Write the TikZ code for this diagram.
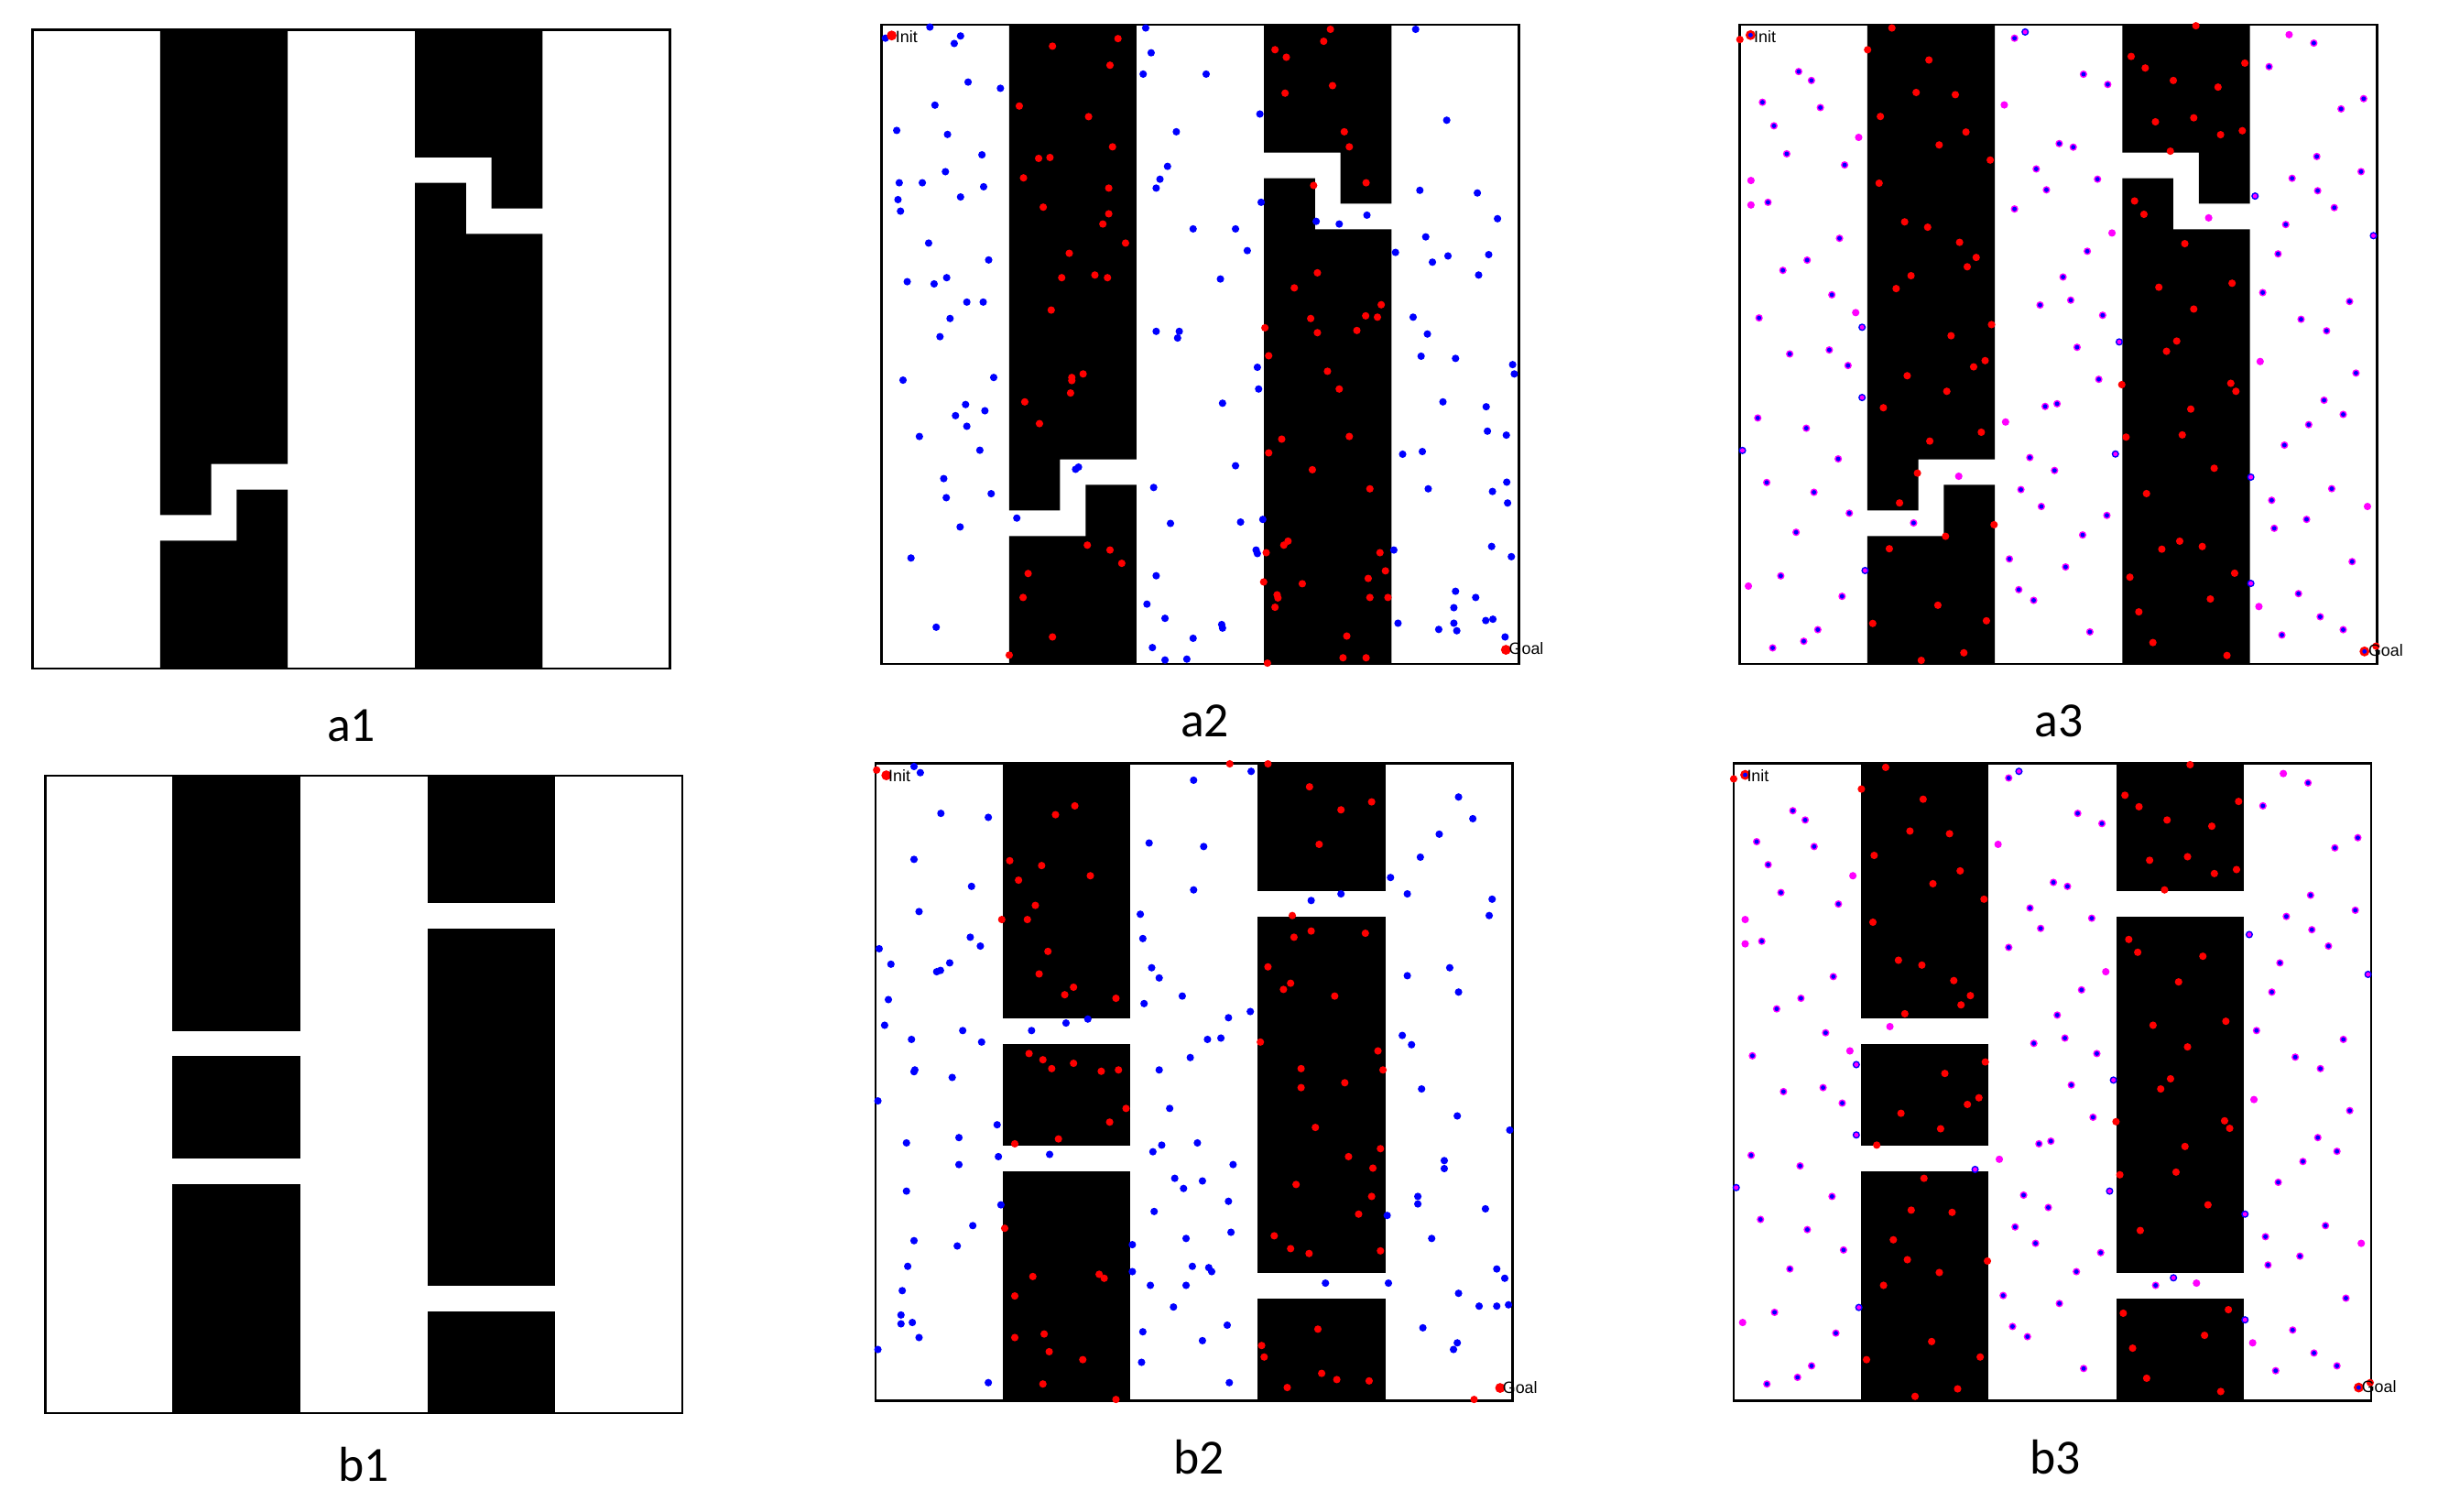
\documentclass[tikz,border=0pt]{standalone}
\usepackage{fontspec}
\setmainfont{Carlito}
\newfontfamily\arialf{Liberation Sans}
\definecolor{dblue}{RGB}{0,0,255}
\definecolor{dred}{RGB}{255,0,0}
\definecolor{dmag}{RGB}{255,0,255}
\tikzset{
  frm/.style={draw=black, line width=0.03cm},
  obst/.style={fill=black},
  lab/.style={font=\fontsize{18}{18}\selectfont, anchor=base, inner sep=0pt},
  smalltxt/.style={font=\arialf\fontsize{6}{6}\selectfont, anchor=base west, inner sep=0pt},
}
\newcommand\obsA{%
  \fill[obst] (2,0)--(4,0)--(4,6.8)--(2.8,6.8)--(2.8,7.6)--(2,7.6)--cycle;
  \fill[obst] (2,8)--(3.2,8)--(3.2,7.2)--(4,7.2)--(4,10)--(2,10)--cycle;
  \fill[obst] (6,0)--(8,0)--(8,2.8)--(7.2,2.8)--(7.2,2)--(6,2)--cycle;
  \fill[obst] (6,2.4)--(6.8,2.4)--(6.8,3.2)--(8,3.2)--(8,10)--(6,10)--cycle;
  \draw[frm] (0,0) rectangle (10,10);}
\newcommand\obsB{%
  \fill[obst] (2,0) rectangle (4,4);
  \fill[obst] (2,4.4) rectangle (4,6);
  \fill[obst] (2,6.4) rectangle (4,10);
  \fill[obst] (6,0) rectangle (8,2);
  \fill[obst] (6,2.4) rectangle (8,8);
  \fill[obst] (6,8.4) rectangle (8,10);
  \draw[frm] (0,0) rectangle (10,10);}
\newcommand\myrad{0.048cm}
\newcommand\myin{0.029cm}
\newcommand\mybig{0.064cm}
\begin{document}
\begin{tikzpicture}[x=0.02cm,y=-0.02cm]
\fill[white] (0,0) rectangle (1568,972);
\useasboundingbox (0,0) rectangle (1568,972);

% ---------- a1 ----------
\begin{scope}[shift={(21,19)}, x=0.82cm, y=-0.822cm]
  \obsA
\end{scope}
\node[lab] (la1) at (226,477) {a1};

% ---------- b1 ----------
\begin{scope}[shift={(29,499)}, x=0.82cm, y=-0.82cm]
  \obsB
\end{scope}
\node[lab] (lb1) at (234,953) {b1};

% ---------- a2 ----------
\begin{scope}[shift={(567,16)}, x=0.82cm, y=-0.822cm]
  \obsA
\end{scope}
\begin{scope}[shift={(567,16)}]
\begin{scope}[x=0.0053947cm, y=-0.0057123cm, shift={(-28,-58)}]
\foreach \x/\y in {37/88, 143/63, 216/83, 201/100, 234/187, 311/201, 155/239, 64/296, 185/305, 267/351, 180/389, 70/414, 125/414, 271/423, 67/452, 216/446, 73/478, 140/550, 283/588, 89/637, 153/642, 183/628, 231/683, 270/683, 191/720, 167/761, 79/859, 295/853, 228/914, 274/928, 204/939, 231/963, 118/986, 262/1017, 176/1081, 182/1124, 289/1115, 215/1190, 350/1170, 98/1260, 158/1416, 490/1060, 497/1055,
657/65, 670/121, 651/169, 801/169, 929/259, 730/299, 709/377, 691/406, 682/426, 932/458, 770/518, 871/518, 899/567, 835/631, 682/749, 737/749, 733/764, 923/830, 926/879, 840/911, 871/1052, 676/1101, 716/1182, 883/1179, 936/1173, 920/1242, 923/1250, 682/1300, 660/1364, 703/1396, 838/1410, 840/1418, 770/1441, 673/1462, 703/1490, 755/1488,
1063/501, 1118/507, 1184/487,
1300/68, 1374/273, 1310/431, 1447/437, 1495/495, 1324/536, 1252/571, 1340/593, 1377/579, 1474/576, 1450/622, 1294/717, 1328/755, 1313/805, 1395/810, 1531/824, 1535/845, 1365/908, 1468/919, 1471/974, 1516/983, 1269/1026, 1316/1020, 1517/1089, 1483/1110, 1519/1136, 1330/1104, 1248/1242, 1481/1234, 1528/1257, 1395/1335, 1391/1372, 1443/1349, 1258/1407, 1355/1421, 1391/1407, 1398/1424, 1467/1401, 1484/1398, 1513/1438}
  \fill[dblue] (\x,\y) circle[radius=\myrad];
\foreach \x/\y in {435/106, 591/89, 572/149, 356/241, 521/265, 578/333, 402/359, 429/357, 366/403, 569/426, 413/469, 569/484, 555/507, 609/550, 475/573, 457/628, 536/622, 566/628, 432/701, 481/853, 481/860, 508/845, 478/888, 369/908, 404/957, 518/1231, 572/1242, 600/1272, 377/1295, 365/1349, 435/1438, 332/1479,
1097/68, 1081/95, 965/114, 992/131, 1102/195, 989/212, 1130/299, 1142/333, 1182/414, 1057/420, 1066/617, 1011/651, 1218/689, 1181/714, 1209/717, 1050/720, 1066/752, 1160/747, 941/741, 950/804, 1090/839, 1118/879, 981/992, 950/1023, 1142/986, 1054/1061, 1191/1104, 1215/1248, 1228/1289, 1187/1306, 944/1248, 986/1231, 996/1222, 938/1314, 1030/1318, 970/1343, 972/1350, 965/1371, 1191/1349, 1234/1349, 1136/1436, 1127/1485, 1182/1485, 947/1497}
  \fill[dred] (\x,\y) circle[radius=\myrad];
\fill[dred] (52,82) circle[radius=\mybig];
\fill[dred] (1515,1467) circle[radius=\mybig];
\node[smalltxt] (ia2) at (60,98) {Init};
\node[smalltxt] (ga2) at (1521,1478) {Goal};
\end{scope}
\end{scope}
\node[lab] (la2) at (775,474) {a2};

% ---------- a3 ----------
\begin{scope}[shift={(1119,16)}, x=0.82cm, y=-0.822cm]
  \obsA
\end{scope}
\begin{scope}[shift={(1119,16)}]
\begin{scope}[x=0.0054776cm, y=-0.0057202cm, shift={(-43,-60)}]
\foreach \x/\y in {181/165, 211/185, 96/234, 232/246, 123/287, 153/350, 289/375, 109/459, 277/540, 201/589, 144/612, 259/667, 88/719, 160/800, 253/791, 297/826, 85/944, 199/967, 274/1036, 106/1089, 217/1111, 300/1158, 175/1201, 451/1180, 139/1299, 283/1345, 226/1420, 193/1446, 120/1461,
688/90, 850/171, 907/194, 793/327, 826/335, 739/384, 883/407, 763/431, 688/474, 859/569, 802/627, 748/690, 820/679, 895/713, 835/785, 886/857, 760/918, 788/912, 724/1033, 782/1062, 703/1105, 751/1143, 905/1163, 848/1207, 676/1261, 808/1279, 698/1330, 733/1354, 865/1425,
1391/101, 1286/154, 1508/226, 1455/249, 1398/356, 1502/390, 1340/405, 1400/433, 1439/471, 1325/509, 1307/575, 1271/662, 1475/682, 1361/722, 1421/748, 1490/843, 1415/904, 1460/936, 1379/959, 1322/1005, 1433/1103, 1292/1129, 1374/1172, 1298/1192, 1481/1267, 1355/1339, 1406/1391, 1460/1420, 1316/1432}
  {\fill[dmag] (\x,\y) circle[radius=\myrad]; \fill[dblue] (\x,\y) circle[radius=\myin];}
\foreach \x/\y in {322/313, 69/410, 69/465, 315/707, 63/1322, 557/1075, 664/240, 917/528, 667/953, 1144/494, 1333/82, 1265/817, 1517/1143, 1262/1368}
  \fill[dmag] (\x,\y) circle[radius=\myrad];
\foreach \x/\y in {330/740, 330/898, 49/1017, 337/1287, 713/76, 934/773, 925/1025, 1253/445, 1531/534, 1243/1077, 1243/1316}
  {\fill[dblue] (\x,\y) circle[radius=\myrad]; \fill[dmag] (\x,\y) circle[radius=\myin];}
\foreach \x/\y in {400/67, 343/116, 487/139, 457/212, 549/217, 373/266, 574/301, 511/330, 631/364, 370/416, 430/503, 484/515, 559/549, 598/583, 577/604, 445/624, 410/653, 634/734, 539/759, 592/829, 619/815, 436/849, 529/884, 380/921, 610/976, 489/996, 460/1068, 418/1135, 640/1184, 526/1210, 394/1238, 508/1365, 355/1406, 622/1400, 569/1472, 469/1489,
1114/62, 962/131, 995/157, 1229/146, 1061/185, 1166/200, 1019/278, 1109/269, 1172/307, 1223/298, 1054/344, 970/456, 992/486, 1088/552, 1027/650, 1199/641, 1109/699, 1069/771, 1045/794, 940/869, 1196/866, 1208/884, 1102/924, 1082/982, 950/987, 1157/1057, 998/1114, 1076/1221, 1034/1239, 1129/1233, 1205/1293, 959/1302, 1148/1351, 980/1380, 1013/1449, 1187/1478,
43/93, 1537/1457}
  \fill[dred] (\x,\y) circle[radius=\myrad];
\fill[dred] (68,83) circle[radius=\mybig]; \fill[dblue] (68,83) circle[radius=\myin];
\fill[dred] (1510,1469) circle[radius=\mybig]; \fill[dblue] (1510,1469) circle[radius=\myin];
\node[smalltxt] (ia3) at (75,100) {Init};
\node[smalltxt] (ga3) at (1518,1480) {Goal};
\end{scope}
\end{scope}
\node[lab] (la3) at (1324,474) {a3};

% ---------- b2 ----------
\begin{scope}[shift={(563,491)}, x=0.82cm, y=-0.82cm]
  \obsB
\end{scope}
\begin{scope}[shift={(563,491)}]
\begin{scope}[x=0.0053983cm, y=-0.0056984cm, shift={(-12,-47)}]
\foreach \x/\y in {104/54, 119/68, 168/160, 281/169, 104/264, 241/325, 116/382, 21/466, 238/440, 262/460, 49/501, 158/518, 167/515, 189/498, 43/581, 34/639, 98/671, 220/651, 265/677, 106/740, 104/744, 195/757, 18/810, 302/864, 86/905, 211/893, 305/936, 211/954, 86/1014, 311/1045, 244/1092, 104/1126, 207/1138, 89/1184, 76/1239, 73/1294, 73/1314, 100/1311, 116/1345, 18/1372, 281/1447,
384/651, 466/634, 518/625, 427/931,
770/85, 907/65, 664/227, 794/235, 770/333, 643/388, 649/443, 670/509, 688/532, 743/573, 652/590, 853/622, 905/608, 803/671, 835/668, 762/712, 688/740, 713/827, 779/905, 694/910, 673/925, 864/954, 725/985, 746/1008, 791/991, 853/1037, 676/1060, 859/1107, 752/1121, 624/1135, 624/1196, 767/1184, 806/1187, 813/1196, 667/1227, 752/1227, 722/1276, 850/1317, 649/1332, 791/1352, 646/1401, 855/1447,
1050/357, 1121/342, 1084/1222, 1234/1222,
1239/305, 1401/123, 1435/172, 1355/207, 1310/259, 1279/342, 1481/354, 1474/391, 1279/527, 1380/509, 1401/564, 1267/662, 1289/683, 1313/783, 1398/844, 1523/876, 1367/945, 1367/963, 1304/1026, 1304/1043, 1465/1054, 1231/1069, 1337/1121, 1492/1190, 1511/1211, 1401/1245, 1450/1274, 1492/1274, 1520/1271, 1316/1323, 1398/1357, 1389/1372}
  \fill[dblue] (\x,\y) circle[radius=\myrad];
\foreach \x/\y in {15/62, 856/48, 947/48,
487/143, 441/163, 332/267, 408/278, 353/311, 524/301, 393/368, 313/400, 374/400, 423/472, 402/523, 484/553, 463/570, 585/578,
378/703, 411/717, 432/737, 484/725, 550/743, 591/740, 609/827, 570/858, 448/896, 344/907,
320/1098, 387/1207, 545/1202, 557/1211, 344/1251, 344/1345, 414/1337, 426/1377, 506/1395, 411/1450, 585/1485,
1046/100, 1194/134, 1121/152, 1069/230,
1005/391, 1009/440, 1050/426, 1179/431, 947/507, 1001/544, 984/558, 1106/573, 929/677, 1209/697, 1221/740, 1026/737, 1026/780, 1130/769, 1060/870, 1215/918, 1139/936, 1197/962, 1014/999, 1194/1026, 1163/1066, 962/1115, 1001/1144, 1045/1155, 1215/1149,
1066/1326, 932/1363, 938/1389, 1075/1426, 1111/1440, 1188/1443, 993/1458, 1438/1485}
  \fill[dred] (\x,\y) circle[radius=\myrad];
\fill[dred] (38,74) circle[radius=\mybig];
\fill[dred] (1500,1459) circle[radius=\mybig];
\node[smalltxt] (ib2) at (42,89) {Init};
\node[smalltxt] (gb2) at (1505,1472) {Goal};
\end{scope}
\end{scope}
\node[lab] (lb2) at (771,948) {b2};

% ---------- b3 ----------
\begin{scope}[shift={(1115,491)}, x=0.82cm, y=-0.82cm]
  \obsB
\end{scope}
\begin{scope}[shift={(1115,491)}]
\begin{scope}[x=0.0054703cm, y=-0.0056944cm, shift={(-28,-47)}]
\foreach \x/\y in {167/154, 196/175, 82/224, 217/235, 109/276, 139/339, 274/365, 94/449, 262/529, 186/578, 129/602, 244/656, 72/708, 145/789, 238/780, 283/815, 69/933, 184/957, 259/1026, 91/1078, 201/1101, 286/1147, 160/1190, 124/1288, 268/1335, 211/1409, 178/1435, 106/1450,
674/80, 836/160, 893/183, 779/316, 812/325, 724/374, 869/397, 749/420, 674/463, 845/559, 788/616, 733/680, 806/668, 881/703, 821/774, 872/847, 745/907, 773/901, 709/1023, 767/1051, 689/1095, 737/1132, 890/1153, 833/1196, 661/1250, 793/1268, 683/1320, 718/1343, 850/1415,
1019/1227,
1377/91, 1271/143, 1494/215, 1440/238, 1383/345, 1488/379, 1326/393, 1386/423, 1425/460, 1311/498, 1292/564, 1256/651, 1460/671, 1347/711, 1406/737, 1475/832, 1400/893, 1445/924, 1365/947, 1307/994, 1418/1092, 1277/1117, 1358/1161, 1283/1181, 1466/1256, 1341/1328, 1391/1380, 1445/1409, 1301/1420}
  {\fill[dmag] (\x,\y) circle[radius=\myrad]; \fill[dblue] (\x,\y) circle[radius=\myin];}
\foreach \x/\y in {308/301, 55/400, 55/455, 301/697, 49/1311, 395/642, 649/230, 902/518, 652/942, 1115/1222, 1319/70, 1250/807, 1502/1132, 1247/1357}
  \fill[dmag] (\x,\y) circle[radius=\myrad];
\foreach \x/\y in {316/728, 316/887, 34/1006, 322/1277, 595/965, 698/65, 920/763, 911/1014, 1239/434, 1061/1210, 1518/524, 1229/1066, 1229/1305}
  {\fill[dblue] (\x,\y) circle[radius=\myrad]; \fill[dmag] (\x,\y) circle[radius=\myin];}
\foreach \x/\y in {385/56, 328/105, 473/128, 442/200, 535/206, 358/255, 560/290, 496/319, 616/354, 355/406, 415/492, 470/503, 545/538, 584/572, 562/593, 430/613,
619/722, 524/748, 604/803, 577/818, 421/838, 514/873, 364/910,
475/985, 445/1057, 541/1062, 403/1124, 436/1169, 624/1172, 511/1198, 380/1227, 493/1354, 340/1395, 607/1389, 554/1461, 454/1478,
1100/50, 947/119, 980/145, 1214/133, 1046/175, 1151/189, 1005/266, 1094/258, 1157/296, 1209/287, 1040/333,
956/445, 977/474, 1130/483, 1073/541, 1013/639, 1184/630, 1094/688, 1054/760, 1031/783, 926/857, 1181/855, 1193/872, 1088/913, 1067/971, 935/977, 1142/1045, 983/1103,
943/1290, 1190/1282, 1134/1340, 965/1369, 998/1437, 1172/1467,
28/82, 1523/1447}
  \fill[dred] (\x,\y) circle[radius=\myrad];
\fill[dred] (55,73) circle[radius=\mybig]; \fill[dblue] (55,73) circle[radius=\myin];
\fill[dred] (1496,1458) circle[radius=\mybig]; \fill[dblue] (1496,1458) circle[radius=\myin];
\node[smalltxt] (ib3) at (58,89) {Init};
\node[smalltxt] (gb3) at (1502,1470) {Goal};
\end{scope}
\end{scope}
\node[lab] (lb3) at (1322,948) {b3};
\end{tikzpicture}
\end{document}
